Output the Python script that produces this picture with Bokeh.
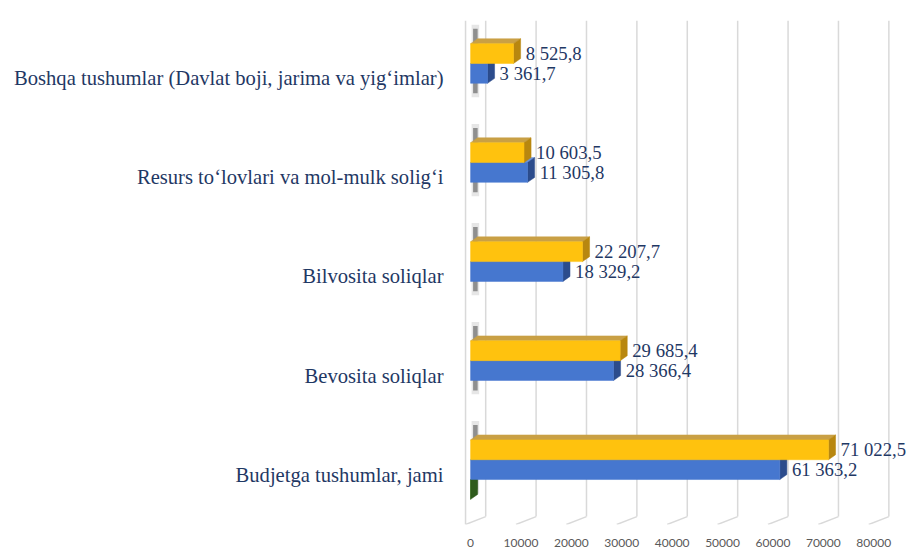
from bokeh.plotting import figure
from bokeh.models import Range1d, FixedTicker, ColumnDataSource
from bokeh.core.properties import value
from bokeh.embed import file_html
from bokeh.resources import INLINE

# ---- data (bottom to top) ----
categories = [
    "Budjetga tushumlar, jami",
    "Bevosita soliqlar",
    "Bilvosita soliqlar",
    "Resurs to\u2018lovlari va mol-mulk solig\u2018i",
    "Boshqa tushumlar (Davlat boji, jarima va yig\u2018imlar)",
]
series_yellow = [71022.5, 29685.4, 22207.7, 10603.5, 8525.8]
series_blue = [61363.2, 28366.4, 18329.2, 11305.8, 3361.7]
series_green = [0.0, 0.0, 0.0, 0.0, 0.0]
x_ticks = [0, 10000, 20000, 30000, 40000, 50000, 60000, 70000, 80000]
x_tick_labels = ["0", "10000", "20000", "30000", "40000", "50000", "60000", "70000", "80000"]

# ---- style ----
NAVY = "#1F3864"
SERIF = "Liberation Serif"
BAR_H = 0.2
DX = 1400      # 3D depth in x data units
DY = 0.05      # 3D depth in y data units
BACK = 3000    # back wall offset
FRONT = -1000  # front floor offset
Y0, Y1 = -0.554, 4.534
FLOOR_BACK = -0.474
LABEL_SHIFT = 0.05

p = figure(width=906, height=549, output_backend="svg", toolbar_location=None,
           x_range=Range1d(-2000, 86500), y_range=Range1d(Y0, Y1),
           min_border_left=460, min_border_right=0, min_border_top=20,
           min_border_bottom=24)
p.outline_line_color = None
p.background_fill_color = "white"
p.border_fill_color = "white"
p.xgrid.grid_line_color = None
p.ygrid.grid_line_color = None

# ---- 3D-ish walls / grid ----
gx_back = [t + BACK for t in x_ticks]
p.segment(x0=gx_back, y0=[FLOOR_BACK] * len(x_ticks), x1=gx_back, y1=[Y1] * len(x_ticks),
          line_color="#D9D9D9", line_width=1.5)
p.segment(x0=gx_back, y0=[FLOOR_BACK] * len(x_ticks),
          x1=[t + FRONT for t in x_ticks], y1=[Y0] * len(x_ticks),
          line_color="#D9D9D9", line_width=1.5)
p.segment(x0=[FRONT], y0=[Y0], x1=[FRONT], y1=[Y1], line_color="#D9D9D9", line_width=1.5)

# soft shadows behind each group
n = len(categories)
p.quad(left=[500] * n, right=[1400] * n,
       bottom=[i - 0.2 for i in range(n)], top=[i + 0.45 for i in range(n)],
       fill_color="#333333", fill_alpha=0.5, line_color=None)
p.quad(left=[200] * n, right=[1700] * n,
       bottom=[i - 0.24 for i in range(n)], top=[i + 0.49 for i in range(n)],
       fill_color="#555555", fill_alpha=0.15, line_color=None)


def draw_series(vals, offset, front, top, side, show_zero_side=False):
    xs_top, ys_top, xs_side, ys_side = [], [], [], []
    lefts, rights, bottoms, tops = [], [], [], []
    for i, v in enumerate(vals):
        yc = i + offset
        b, t = yc - BAR_H / 2, yc + BAR_H / 2
        if v <= 0 and not show_zero_side:
            continue
        xs_top.append([0, v, v + DX, DX]); ys_top.append([t, t, t + DY, t + DY])
        xs_side.append([v, v + DX, v + DX, v]); ys_side.append([b, b + DY, t + DY, t])
        lefts.append(0); rights.append(v); bottoms.append(b); tops.append(t)
    if xs_top:
        p.patches(xs_top, ys_top, fill_color=top, line_color=top, line_width=0.5)
        p.patches(xs_side, ys_side, fill_color=side, line_color=side, line_width=0.5)
        p.quad(left=lefts, right=rights, bottom=bottoms, top=tops,
               fill_color=front, line_color=front, line_width=0.5)


# green series (near zero, only depth visible on first category)
draw_series(series_green[:1], -0.2, "#3B6E22", "#4E8A2E", "#2E5A1C", show_zero_side=True)
draw_series(series_blue, 0.0, "#4677CF", "#6B93DC", "#2C4C8C")
draw_series(series_yellow, 0.2, "#FFC20E", "#C9A045", "#B8870F")


def fmt(v):
    s = f"{v:,.1f}"
    return s.replace(",", " ").replace(".", ",")


src = ColumnDataSource(dict(
    x=[v + DX + 1000 for v in series_yellow] + [v + DX + 1000 for v in series_blue],
    y=[i + 0.2 for i in range(5)] + [i + 0.0 for i in range(5)],
    t=[fmt(v) for v in series_yellow] + [fmt(v) for v in series_blue],
))
p.text(x="x", y="y", text="t", source=src, text_font=value(SERIF),
       text_font_size="18.7px", text_color=NAVY, text_baseline="middle", text_align="left")

# ---- axes ----
y_ticks = [round(i - LABEL_SHIFT, 2) for i in range(n)]
p.yaxis.ticker = FixedTicker(ticks=y_ticks)
p.yaxis.major_label_overrides = {t: c for t, c in zip(y_ticks, categories)}
p.yaxis.axis_line_color = None
p.yaxis.major_tick_line_color = None
p.yaxis.minor_tick_line_color = None
p.yaxis.major_label_standoff = 11
p.yaxis.major_label_text_font = SERIF
p.yaxis.major_label_text_font_size = "20.6px"
p.yaxis.major_label_text_color = NAVY

p.xaxis.ticker = FixedTicker(ticks=x_ticks)
p.xaxis.major_label_overrides = {t: l for t, l in zip(x_ticks, x_tick_labels)}
p.xaxis.axis_line_color = None
p.xaxis.major_tick_line_color = None
p.xaxis.minor_tick_line_color = None
p.xaxis.major_label_standoff = 8
p.xaxis.major_label_text_font = "Lato"
p.xaxis.major_label_text_font_size = "12px"
p.xaxis.major_label_text_color = "#595959"

open("out.html", "w").write(file_html(p, INLINE))
